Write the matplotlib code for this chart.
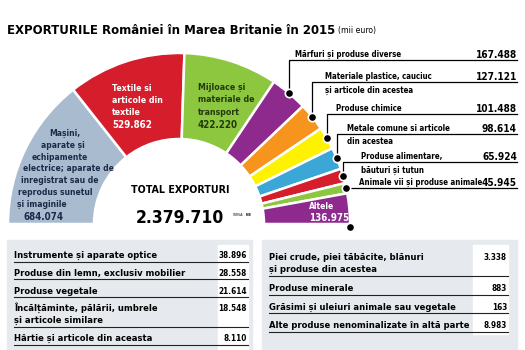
import numpy as np
import matplotlib
matplotlib.use("Agg")
import matplotlib.pyplot as plt
from matplotlib import font_manager as fm
from matplotlib.patches import Rectangle

# fontul din original e un sans ingust; alegem ce e disponibil
nume_fonturi = {(f.name, f.stretch) for f in fm.fontManager.ttflist}
if any(n == "Liberation Sans Narrow" for n, s in nume_fonturi):
    plt.rcParams["font.family"] = ["Liberation Sans Narrow", "DejaVu Sans"]
elif ("DejaVu Sans", "condensed") in nume_fonturi:
    plt.rcParams["font.family"] = ["DejaVu Sans"]
    plt.rcParams["font.stretch"] = "condensed"
else:
    plt.rcParams["font.family"] = ["Roboto", "DejaVu Sans"]
plt.rcParams["font.weight"] = "bold"

# exporturi in mii euro (semicercul)
categorii = ["Mașini", "Textile", "Mijloace de transport", "Mărfuri și produse diverse",
             "Materiale plastice", "Produse chimice", "Metale comune",
             "Produse alimentare", "Animale vii", "Altele"]
valori = [684074, 529862, 422220, 167488, 127121, 101488, 98614, 65924, 45945, 136975]
culori = ["#a9bccf", "#d51d2b", "#8dc63f", "#8e2a8e", "#f7941d", "#fff200",
          "#3aa7d6", "#d51d2b", "#8dc63f", "#8e2a8e"]
total = 2379710

# etichetele din dreapta (felii mici)
etichete_dreapta = ["Mărfuri și produse diverse",
                    "Materiale plastice, cauciuc\nși articole din acestea",
                    "Produse chimice",
                    "Metale comune si articole\ndin acestea",
                    "Produse alimentare,\nbăuturi și tutun",
                    "Animale vii și produse animale"]

# tabelul de jos
tabel_st_nume = ["Instrumente și aparate optice",
                 "Produse din lemn, exclusiv mobilier",
                 "Produse vegetale",
                 "Încălțăminte, pălării, umbrele\nși articole similare",
                 "Hârtie și articole din aceasta",
                 "Articole din piatră, ipsos, ciment, ceramică"]
tabel_st_val = [38896, 28558, 21614, 18548, 8110, 7093]
tabel_dr_nume = ["Piei crude, piei tăbăcite, blănuri\nși produse din acestea",
                 "Produse minerale",
                 "Grăsimi și uleiuri animale sau vegetale",
                 "Alte produse nenominalizate în altă parte"]
tabel_dr_val = [3338, 883, 163, 8983]


def fmt(v):
    return f"{v:,}".replace(",", ".")


fig = plt.figure(figsize=(5.25, 3.5), dpi=100)
ax = fig.add_axes([0, 0, 1, 1])
renderer = fig.canvas.get_renderer()


def marime(proba, latime, **kw):
    # marimea fontului pentru care textul are latimea dorita (px)
    t = ax.text(0, 0, proba, fontsize=10, **kw)
    w = t.get_window_extent(renderer).width
    t.remove()
    return 10 * latime / w


cx, cy, R, W = 179, 224, 171, 86
# jumatatea de jos e o felie invizibila
wedges, _ = ax.pie(valori + [sum(valori)], colors=culori + ["white"],
                   startangle=180, counterclock=True, radius=R, center=(cx, cy),
                   wedgeprops=dict(width=W, edgecolor="white", linewidth=1.8))
wedges[-1].set_visible(False)

ax.set_xlim(0, 525)
ax.set_ylim(350, 0)
ax.set_aspect("equal")
ax.axis("off")

# titlu
titlu = "EXPORTURILE României în Marea Britanie în 2015"
fs = min(marime(titlu, 326), 13)
t = ax.text(7, 34, titlu, fontsize=fs, va="baseline", ha="left")
x1 = t.get_window_extent(renderer).x1
ax.text(x1 + 3, 33, "(mii euro)", fontsize=marime("(mii euro)", 38, fontweight="normal"),
        fontweight="normal", va="baseline")


def linii(x, y0, pas, texte, fs, **kw):
    for i, s in enumerate(texte):
        ax.text(x, y0 + i * pas, s, fontsize=fs, va="baseline", **kw)


# etichete in felii
fs_felie = marime("electrice; aparate de", 89)
fs_val = marime("684.074", 40)
masini_linii = ["Mașini,", "aparate și", "echipamente", "electrice; aparate de",
                "inregistrat sau de", "reprodus sunetul", "și imaginile"]
masini_x = [65, 63, 60, 68, 60, 55, 42]
for i, (s, x) in enumerate(zip(masini_linii, masini_x)):
    ax.text(x, 136 + i * 11.8, s, fontsize=fs_felie, color="#1c2a48", ha="center",
            va="baseline")
ax.text(43, 220, fmt(valori[0]), fontsize=fs_val, color="#1c2a48", ha="center",
        va="baseline")

fs_felie2 = marime("articole din", 50)
linii(112, 91, 12, ["Textile si", "articole din", "textile"], fs_felie2, color="white")
ax.text(112, 128, fmt(valori[1]), fontsize=fs_val, color="white", va="baseline")

linii(198, 90, 12.5, ["Mijloace și", "materiale de", "transport"], fs_felie2, color="#223a0c")
ax.text(198, 128, fmt(valori[2]), fontsize=fs_val, color="#223a0c", va="baseline")

ax.text(309, 209, "Altele", fontsize=marime("Altele", 25), color="white", va="baseline")
ax.text(309, 221, fmt(valori[9]), fontsize=fs_val, color="white", va="baseline")

# centru
ax.text(180, 193, "TOTAL EXPORTURI", fontsize=marime("TOTAL EXPORTURI", 98),
        ha="center", va="baseline")
ax.text(180, 223, fmt(total), fontsize=marime(fmt(total), 88), ha="center", va="baseline")
fs_sursa = marime("SURSA: INS", 20)
s = ax.text(233, 216, "SURSA:", fontsize=fs_sursa, fontweight="normal", va="baseline")
ax.text(s.get_window_extent(renderer).x1 + 1, 216, "INS", fontsize=fs_sursa, va="baseline")

# etichete cu linii de legatura
fs_et = marime("Animale vii și produse animale", 122)
fs_et_val = marime("167.488", 41)
text_x = [295, 325, 336, 347, 361, 359]
linie_y = [60, 82, 114, 134, 162, None]
x_dr = 517
for k, idx in enumerate(range(3, 9)):
    w = wedges[idx]
    a = np.deg2rad((w.theta1 + w.theta2) / 2)
    px, py = cx + R * np.cos(a), cy + R * np.sin(a)
    ly = linie_y[k] if linie_y[k] is not None else py
    ax.plot([px, px, x_dr], [py, ly, ly], color="black", lw=0.9, zorder=4)
    ax.plot(px, py, "o", ms=6, mfc="black", mec="white", mew=1.2, zorder=5)
    parti = etichete_dreapta[k].split("\n")
    ax.text(text_x[k], ly - 3, parti[0], fontsize=fs_et, va="baseline")
    if len(parti) > 1:
        # randul 2 sta sub linie
        ax.text(text_x[k], ly + 10.5, parti[1], fontsize=fs_et, va="baseline")
    ax.text(x_dr, ly - 2.5, fmt(valori[idx]), fontsize=fs_et_val, ha="right", va="baseline")

# punct la capatul feliei "Altele"
w = wedges[9]
a = np.deg2rad(w.theta2)
ax.plot(cx + R * np.cos(a), cy + R * np.sin(a) + 3, "o", ms=6, mfc="black", mec="white",
        mew=1.2, zorder=5)

# tabel jos
gri = "#e6eaee"
ax.add_patch(Rectangle((7, 240), 245, 115, color=gri, zorder=1))
ax.add_patch(Rectangle((262, 240), 255, 115, color=gri, zorder=1))
ax.add_patch(Rectangle((218, 245), 30, 110, color="white", zorder=1))
ax.add_patch(Rectangle((473, 245), 35, 89, color="white", zorder=1))

fs_tab = marime("Produse din lemn, exclusiv mobilier", 169)
fs_tab_val = min(fs_tab, marime("38.896", 28))


def tabel(nume, val, x0, x1, y0, h1, h2):
    y = y0
    for n, v in zip(nume, val):
        parti = n.split("\n")
        h = h1 if len(parti) == 1 else h2
        y_lin = y + h
        b = y_lin - 3.5 if len(parti) == 1 else y_lin - 16.5
        linii(x0, b, 12, parti, fs_tab, zorder=3)
        ax.text(x1 - 1, b, fmt(v), fontsize=fs_tab_val, ha="right", va="baseline", zorder=3)
        ax.plot([x0, x1], [y_lin, y_lin], color="#222222", lw=0.8, zorder=3)
        y = y_lin


tabel(tabel_st_nume, tabel_st_val, 14, 248, 244, 17.7, 30)
tabel(tabel_dr_nume, tabel_dr_val, 269, 508, 246, 18.5, 30)

fig.savefig("out.png", dpi=100)
